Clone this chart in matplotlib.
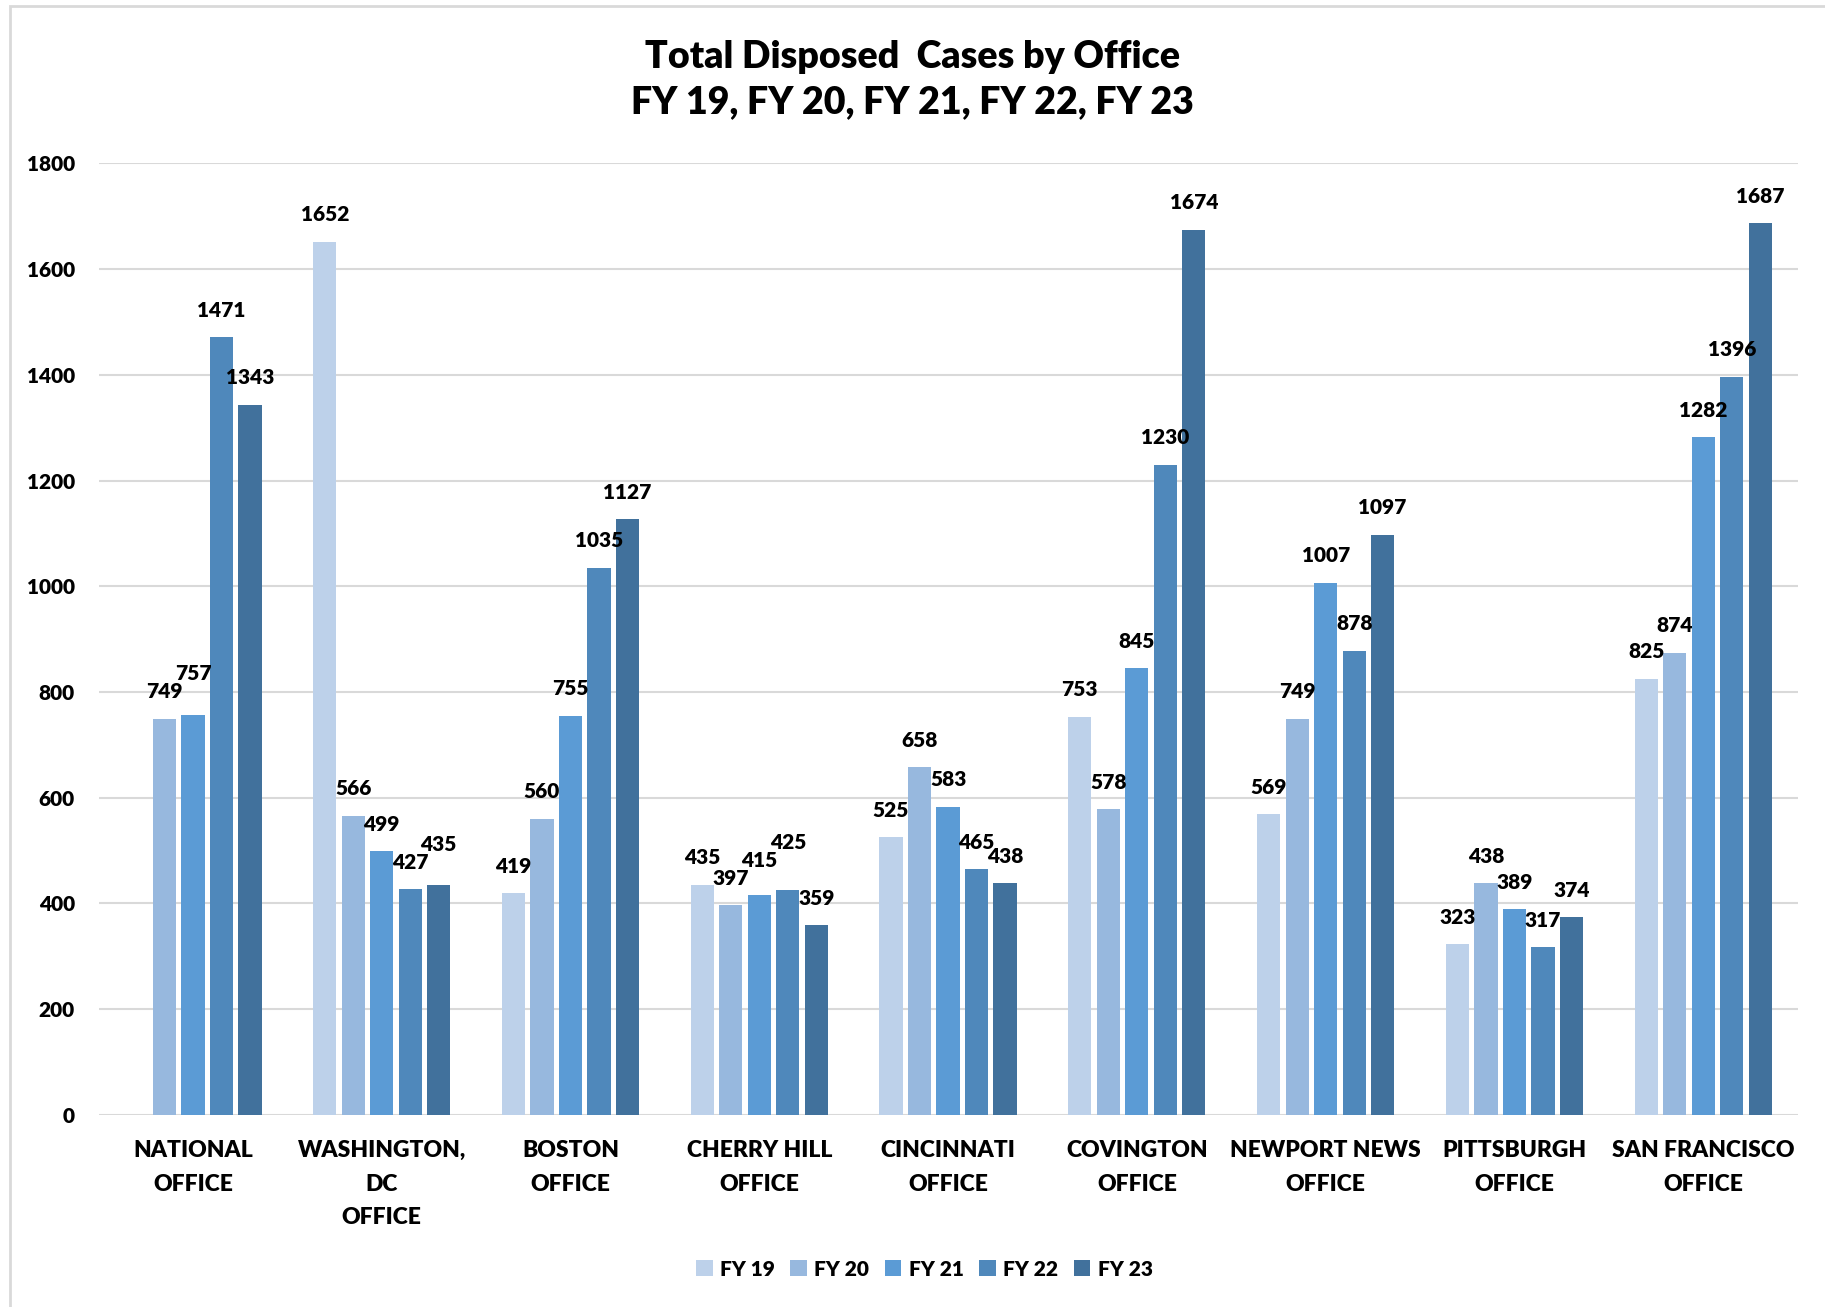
import matplotlib.pyplot as plt
from matplotlib.patches import Rectangle
import numpy as np

plt.rcParams['font.family'] = ['Lato', 'DejaVu Sans']
plt.rcParams['font.weight'] = 'heavy'

offices = ['NATIONAL\nOFFICE', 'WASHINGTON,\nDC\nOFFICE', 'BOSTON\nOFFICE', 'CHERRY HILL\nOFFICE',
           'CINCINNATI\nOFFICE', 'COVINGTON\nOFFICE', 'NEWPORT NEWS\nOFFICE', 'PITTSBURGH\nOFFICE',
           'SAN FRANCISCO\nOFFICE']
years = ['FY 19', 'FY 20', 'FY 21', 'FY 22', 'FY 23']
fy19 = [np.nan, 1652, 419, 435, 525, 753, 569, 323, 825]
fy20 = [749, 566, 560, 397, 658, 578, 749, 438, 874]
fy21 = [757, 499, 755, 415, 583, 845, 1007, 389, 1282]
fy22 = [1471, 427, 1035, 425, 465, 1230, 878, 317, 1396]
fy23 = [1343, 435, 1127, 359, 438, 1674, 1097, 374, 1687]
colors = ['#BDD1EA', '#97B8DE', '#5B9BD5', '#4F88BB', '#41719C']

series = [fy19, fy20, fy21, fy22, fy23]

fig = plt.figure(figsize=(18.25, 13.07), dpi=100)
ax = fig.add_axes([0.054, 0.147, 0.931, 0.728])

x = np.arange(len(offices))
step = 0.151
width = 0.123
for i, (vals, name, c) in enumerate(zip(series, years, colors)):
    ax.bar(x + (i - 2) * step, vals, width, color=c, label=name, zorder=3)

ax.set_ylim(0, 1800)
ax.set_xlim(-0.5, len(offices) - 0.5)
ax.set_yticks(range(0, 1801, 200))
ax.tick_params(axis='y', labelsize=15, length=0, pad=17)
ax.tick_params(axis='x', labelsize=16.5, length=0, pad=18)
ax.set_xticks(x)
ax.set_xticklabels(offices, linespacing=1.75)
ax.grid(axis='y', color='#D9D9D9', linewidth=1.5, zorder=0)
for s in ax.spines.values():
    s.set_visible(False)

# data labels, nudged up like Excel does when they collide
fig.canvas.draw()
renderer = fig.canvas.get_renderer()
for j in range(len(offices)):
    placed = []
    for i, vals in enumerate(series):
        v = vals[j]
        if np.isnan(v):
            continue
        p = x[j] + (i - 2) * step
        dy = 27
        t = ax.annotate(str(int(v)), (p, v), xytext=(0, dy), textcoords='offset pixels',
                        ha='center', va='center', fontsize=15, fontweight='heavy')
        bb = t.get_window_extent(renderer)
        moved = True
        while moved:
            moved = False
            for ob in placed:
                if (bb.x0 < ob.x1 - 6 and bb.x1 > ob.x0 + 6
                        and bb.y0 < ob.y1 - 5 and bb.y1 > ob.y0 + 5):
                    dy += ob.y1 - bb.y0 - 1
                    t.set_position((0, dy))
                    bb = t.get_window_extent(renderer)
                    moved = True
        placed.append(bb)

fig.text(0.5, 0.939, 'Total Disposed  Cases by Office\nFY 19, FY 20, FY 21, FY 22, FY 23',
         ha='center', va='center', fontsize=27, fontweight='heavy', linespacing=1.4)

ax.legend(loc='center', bbox_to_anchor=(0.486, -0.162), ncol=5, frameon=False,
          fontsize=15, handlelength=0.8, handleheight=0.8, columnspacing=0.75, handletextpad=0.35)

fig.patches.append(Rectangle((0.0055, -0.01), 1.2, 1.0055, transform=fig.transFigure,
                             fill=False, edgecolor='#D9D9D9', linewidth=2))

plt.savefig('out.png', dpi=100)
